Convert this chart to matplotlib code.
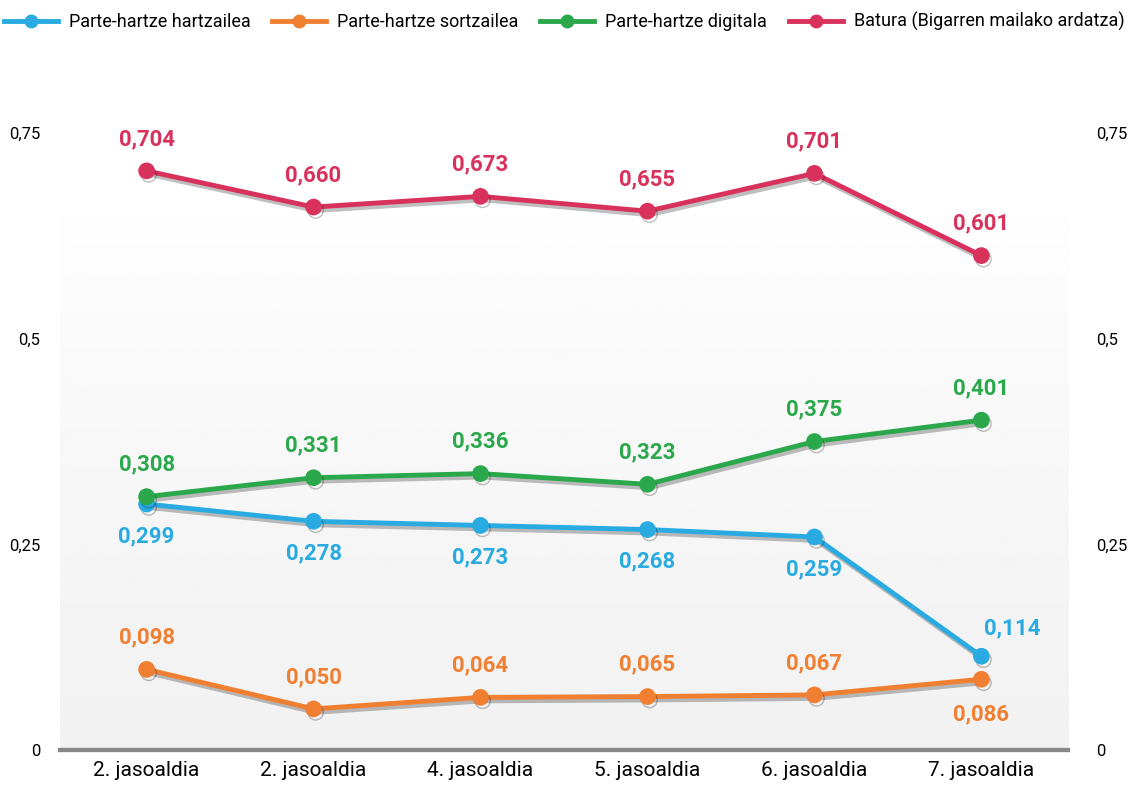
import numpy as np
import matplotlib
matplotlib.use('Agg')
import matplotlib.pyplot as plt
import matplotlib.patheffects as pe
from matplotlib import font_manager

## Data
periods = ['2. jasoaldia', '2. jasoaldia', '4. jasoaldia', '5. jasoaldia', '6. jasoaldia', '7. jasoaldia']
hartzailea = [0.299, 0.278, 0.273, 0.268, 0.259, 0.114]
sortzailea = [0.098, 0.050, 0.064, 0.065, 0.067, 0.086]
digitala = [0.308, 0.331, 0.336, 0.323, 0.375, 0.401]
batura = [0.704, 0.660, 0.673, 0.655, 0.701, 0.601]
yticks = [0, 0.25, 0.5, 0.75]
ytick_labels = ['0', '0,25', '0,5', '0,75']

names = [f.name for f in font_manager.fontManager.ttflist]
cond = 'Liberation Sans Narrow' if 'Liberation Sans Narrow' in names else 'Roboto'
plt.rcParams['font.family'] = [cond, 'DejaVu Sans']

c_blue = '#29abe2'
c_orange = '#f07f32'
c_green = '#2aa84b'
c_red = '#d8325c'

fig = plt.figure(figsize=(11.28, 7.89), dpi=100)
ax = fig.add_axes([0.053, 0.0494, 0.894, 0.782])
ax2 = ax.twinx()

x = np.arange(len(periods))

# gradient background (white at top -> light grey at bottom)
t = np.linspace(0, 1, 256)
grad = 1.0 - 0.055 * np.clip((t - 0.1) / 0.9, 0, 1) ** 0.8
grad = grad.reshape(-1, 1)
ax.imshow(grad, extent=[0, 1, 0, 1], transform=ax.transAxes, cmap='gray',
          vmin=0, vmax=1, aspect='auto', origin='upper', zorder=0)

shadow = [pe.SimpleLineShadow(offset=(1.5, -2.5), alpha=0.25, shadow_color='k'), pe.Normal()]

def draw(a, vals, col, label, offs):
    a.plot(x, vals, color=col, lw=3.5, marker='o', ms=11, label=label,
           path_effects=shadow, zorder=3)
    for xi, v, o in zip(x, vals, offs):
        a.annotate(('%.3f' % v).replace('.', ','), (xi, v), xytext=o,
                   textcoords='offset points', ha='center', va='center',
                   color=col, fontsize=16, fontweight='bold',
                   annotation_clip=False, zorder=4)

up = (0, 23)
dn = (0, -23)
draw(ax, hartzailea, c_blue, 'Parte-hartze hartzailea', [dn, dn, dn, dn, dn, (22, 20)])
draw(ax, sortzailea, c_orange, 'Parte-hartze sortzailea', [up, up, up, up, up, (0, -25)])
draw(ax, digitala, c_green, 'Parte-hartze digitala', [up] * 6)
draw(ax2, batura, c_red, 'Batura (Bigarren mailako ardatza)', [up] * 6)

for a in (ax, ax2):
    a.set_xlim(-0.52, 5.52)
    a.set_ylim(0, 0.75)
    a.set_yticks(yticks)
    a.set_yticklabels(ytick_labels, fontsize=12)
    for s in ['top', 'left', 'right']:
        a.spines[s].set_visible(False)
    a.spines['bottom'].set_color('#888888')
    a.spines['bottom'].set_linewidth(3)
    a.tick_params(length=0)

ax.tick_params(axis='y', pad=14)
ax2.tick_params(axis='y', pad=20)
ax.set_xticks(x)
ax.set_xticklabels(periods, fontsize=15)
ax.tick_params(axis='x', pad=8)

h1, l1 = ax.get_legend_handles_labels()
h2, l2 = ax2.get_legend_handles_labels()
leg = fig.legend(h1 + h2, l1 + l2, loc='upper center', bbox_to_anchor=(0.5, 1.005),
                 ncol=4, frameon=False, fontsize=13, handlelength=3.0,
                 columnspacing=1.2, handletextpad=0.6)
for lh in leg.legend_handles:
    lh.set_path_effects([])
    lh.set_markersize(9)

fig.savefig('out.png', dpi=100)
